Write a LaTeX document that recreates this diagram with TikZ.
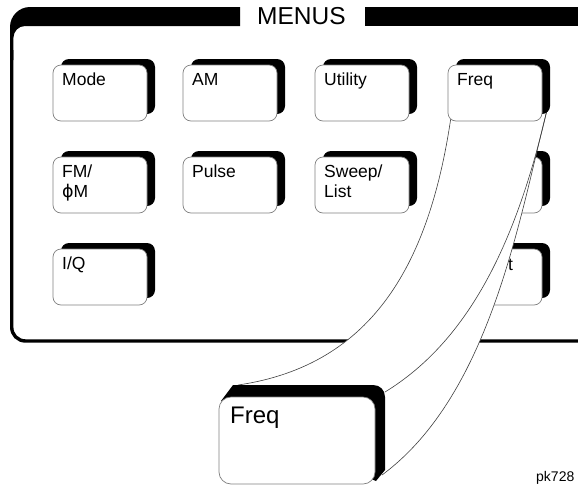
\documentclass[tikz,border=0pt]{standalone}
\usepackage{fontspec}
\setmainfont{Liberation Sans}
\newfontfamily\phifont{DejaVu Sans}
\tikzset{
  keyface/.style={fill=white, draw=black!50, line width=0.7pt, rounded corners=8pt},
  keyshadow/.style={fill=black, rounded corners=8pt},
  keytext/.style={anchor=base west, inner sep=0pt, font=\fontsize{17.5}{20}\selectfont},
  bigtext/.style={anchor=base west, inner sep=0pt, font=\fontsize{24}{28}\selectfont},
  flapline/.style={draw=black!75, line width=0.6pt},
}
\newcommand\keybtn[4]{%
  \fill[keyshadow] ({#2+8},{#3-6}) rectangle ({#2+102},{#3+49});
  \draw[keyface] (#2,#3) rectangle ({#2+94},{#3+56});
  \node[keytext] (#1) at ({#2+9},{#3+20}) {#4};
}
\newcommand\keyblank[2]{%
  \fill[keyshadow] ({#1+8},{#2-6}) rectangle ({#1+102},{#2+49});
  \draw[keyface] (#1,#2) rectangle ({#1+94},{#2+56});
}
\begin{document}
\begin{tikzpicture}[x=1pt,y=-1pt]
\useasboundingbox (0,0) rectangle (578,485);
% frame
\fill (240,7) -- (30,7) .. controls (19,7) and (10,16) .. (10,27) -- (10,60)
  -- (13.4,60) -- (13.4,38) .. controls (13.4,31.4) and (18.4,26) .. (25,26) -- (240,26) -- cycle;
\draw[line width=3.4pt] (11.7,50) -- (11.7,327) .. controls (11.7,335) and (17.7,341) .. (25.7,341) -- (600,341);
\fill (365,7) rectangle (600,26);
\node[anchor=base west, inner sep=0pt, font=\fontsize{24.5}{28}\selectfont] (menus) at (257,24.5) {MENUS};
% keys
\keybtn{mode}{53}{65}{Mode}
\keybtn{am}{183}{65}{AM}
\keybtn{util}{315}{65}{Utility}
\keybtn{fm}{53}{157}{FM/}
\node[keytext] (phim) at (62,197) {{\phifont ϕ}M};
\keybtn{pulse}{183}{157}{Pulse}
\keybtn{sweep}{315}{157}{Sweep/}
\node[keytext] (list) at (324,197) {List};
\keyblank{448}{157}
\keybtn{iq}{53}{249}{I/Q}
\keyblank{448}{249}
\node[keytext] (lfout) at (508,270) {t};
% connector end points
\coordinate (sfL) at (451,117);
\coordinate (sfR) at (547,110);
\coordinate (bfL) at (238,385);
\coordinate (bfTR) at (385,392);
\coordinate (bfBR) at (382,475);
% flap
\fill[white] (sfL) .. controls (430,260) and (375,365) .. (bfL) -- (300,440) -- (bfBR)
  .. controls (490,395) and (519,220) .. (sfR) -- (500,90) -- cycle;
\draw[flapline] (sfL) .. controls (430,260) and (375,365) .. (bfL);
\draw[flapline] (sfR) .. controls (517,240) and (470,340) .. (bfTR);
\draw[flapline] (sfR) .. controls (519,220) and (490,395) .. (bfBR);
% small Freq key
\keybtn{freq}{448}{65}{Freq}
% big Freq key
\fill (221,401) -- (233,385) -- (373,385) .. controls (380,385) and (385,390) .. (385,397)
  -- (385,470) -- (376,481) -- (300,450) -- cycle;
\draw[keyface, rounded corners=12pt] (219,397) rectangle (375,484);
\node[bigtext] (bigfreq) at (230,423) {Freq};
\node[anchor=base west, inner sep=0pt, font=\fontsize{14}{16}\selectfont] (pk) at (536,481) {pk728};
\end{tikzpicture}
\end{document}
